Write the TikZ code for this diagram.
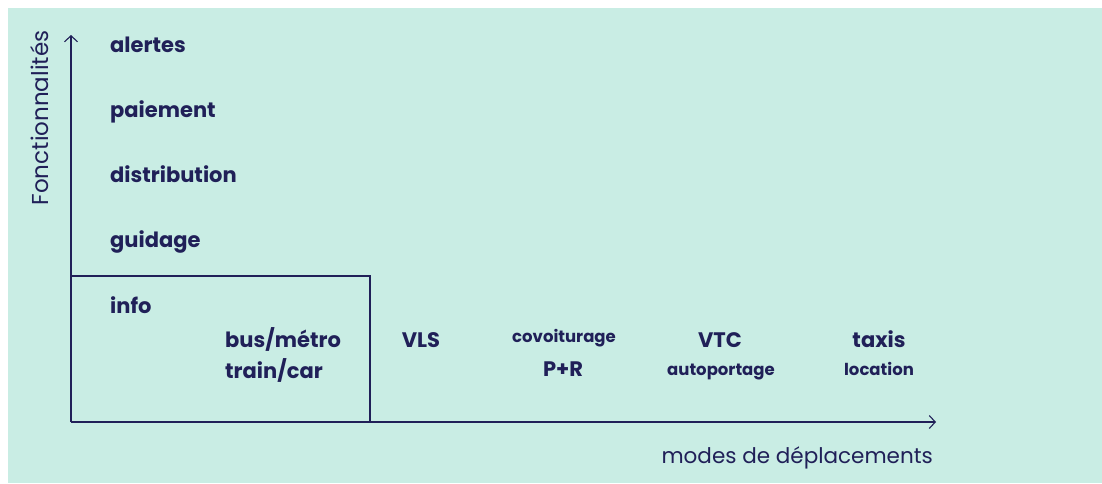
\documentclass[tikz,border=0pt]{standalone}
\usepackage{fontspec}
\setmainfont{Poppins}
\usetikzlibrary{arrows.meta}
\definecolor{mint}{RGB}{201,237,228}
\definecolor{navy}{RGB}{32,32,88}
\tikzset{
  big/.style={font=\fontsize{21}{25}\selectfont\bfseries, text=navy, inner sep=0pt},
  small/.style={font=\fontsize{16.5}{19}\selectfont\bfseries, text=navy, inner sep=0pt},
  axlab/.style={font=\fontsize{21.5}{25}\selectfont, text=navy, inner sep=0pt},
  axis/.style={draw=navy, line width=1.3pt, -{Straight Barb[length=6pt,width=13pt,line width=1.1pt]}},
  frame/.style={draw=navy, line width=1.3pt}
}
\begin{document}
\begin{tikzpicture}[x=1pt,y=-1pt]
\useasboundingbox (0,0) rectangle (1102,483);
\fill[white] (0,0) rectangle (1102,483);
\fill[mint] (8,8) rectangle (1102,483);
% axes
\coordinate (O) at (71,422);
\coordinate (ytip) at (71,35);
\coordinate (xtip) at (936,422);
\coordinate (boxtl) at (71,276);
\coordinate (boxtr) at (370,276);
\coordinate (boxbr) at (370,422);
\draw[frame] (boxtl) -- (boxtr) -- (boxbr);
\draw[axis] (O) -- (ytip);
\draw[axis] (O) -- (xtip);
% axis labels
\node[axlab, font=\fontsize{23}{27}\selectfont, rotate=90, anchor=base] (fonc) at (48,118) {Fonctionnalités};
\node[axlab, anchor=base east] (modes) at (933,463) {modes de déplacements};
% functionalities
\node[big, anchor=base west] (alertes) at (110,52) {alertes};
\node[big, anchor=base west] (paiement) at (110,117) {paiement};
\node[big, anchor=base west] (distribution) at (110,182) {distribution};
\node[big, anchor=base west] (guidage) at (110,247) {guidage};
\node[big, anchor=base west] (info) at (110,313) {info};
% modes
\node[big, anchor=base west] (bus) at (225,347) {bus/métro};
\node[big, anchor=base west] (train) at (225,378) {train/car};
\node[big, anchor=base] (vls) at (421,347) {VLS};
\node[small, anchor=base] (covoit) at (564,342) {covoiturage};
\node[big, anchor=base] (pr) at (563,376) {P+R};
\node[big, anchor=base] (vtc) at (720,347) {VTC};
\node[small, anchor=base] (auto) at (721,375) {autoportage};
\node[big, anchor=base] (taxis) at (879,347) {taxis};
\node[small, anchor=base] (loc) at (879,375) {location};
\end{tikzpicture}
\end{document}
